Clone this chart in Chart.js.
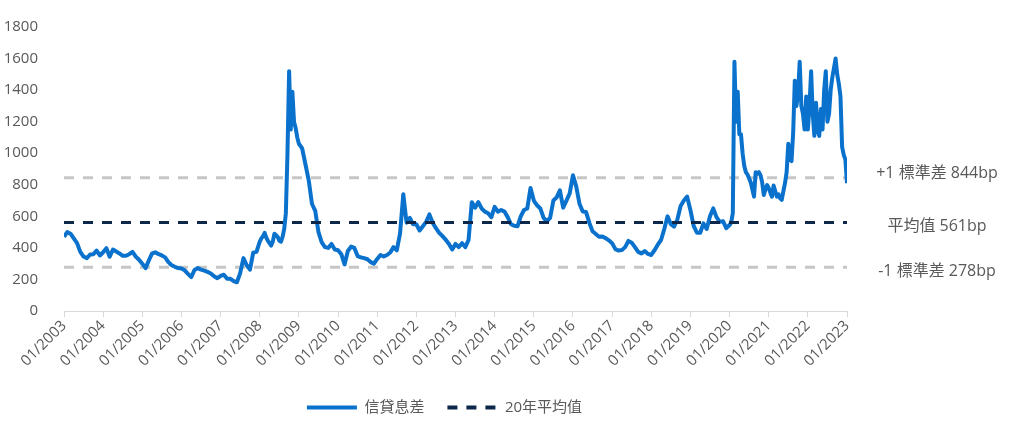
<!DOCTYPE html>
<html>
<head>
<meta charset="utf-8">
<script src="https://cdn.jsdelivr.net/npm/chart.js@4.4.1/dist/chart.umd.min.js"></script>
<style>
	body { margin: 0; background: #fff; }
	canvas { display: block; }
</style>
</head>
<body>
<canvas id="chart" width="1023" height="433"></canvas>
<script>
// spread readings, evenly spaced inside each year (12 = monthly, 24 = half-monthly)
const years = [2003, 2004, 2005, 2006, 2007, 2008, 2009, 2010, 2011, 2012,
	2013, 2014, 2015, 2016, 2017, 2018, 2019, 2020, 2021, 2022, 2023];

const spread2003 = [470, 500, 490, 460, 430, 375, 345, 335, 358, 360, 383, 352];
const spread2004 = [372, 398, 344, 390, 377, 365, 350, 350, 360, 375, 345, 325];
const spread2005 = [300, 272, 320, 365, 372, 360, 352, 340, 310, 290, 280, 272];
const spread2006 = [270, 258, 235, 215, 260, 272, 262, 256, 248, 238, 220, 208];
const spread2007 = [222, 230, 205, 204, 190, 182, 240, 335, 290, 262, 370, 375];
const spread2008 = [440, 460, 475, 495, 465, 445, 430, 415, 440, 490, 480, 470,
	445, 440, 470, 520, 620, 1000, 1520, 1150, 1390, 1200, 1160, 1100];
const spread2009 = [1060, 1030, 930, 830, 680, 635, 500, 435, 405, 400, 425, 390];
const spread2010 = [385, 360, 295, 380, 408, 400, 348, 340, 335, 328, 310, 300];
const spread2011 = [330, 355, 345, 355, 371, 405, 385, 490, 740, 560, 590, 550];
const spread2012 = [550, 510, 537, 565, 612, 560, 525, 495, 475, 452, 425, 390];
const spread2013 = [425, 405, 430, 405, 450, 690, 655, 690, 650, 630, 620, 595];
const spread2014 = [660, 630, 640, 630, 595, 550, 540, 537, 600, 640, 650, 780];
const spread2015 = [700, 670, 650, 590, 569, 590, 700, 720, 765, 655, 700, 745];
const spread2016 = [860, 790, 680, 630, 628, 560, 505, 488, 470, 472, 462, 448];
const spread2017 = [430, 392, 383, 386, 405, 444, 433, 405, 375, 365, 380, 362];
const spread2018 = [355, 385, 420, 450, 520, 600, 550, 535, 580, 665, 700, 725];
const spread2019 = [640, 540, 496, 496, 555, 520, 600, 650, 595, 565, 569, 525];
const spread2020 = [545, 560, 620, 1580, 1200, 1390, 1120, 1120, 1000, 920, 880, 865,
	840, 815, 770, 725, 880, 870, 880, 860, 815, 735, 770, 798];
const spread2021 = [780, 750, 725, 795, 760, 725, 740, 715, 705, 760, 810, 880,
	1060, 960, 950, 1130, 1460, 1300, 1380, 1580, 1300, 1250, 1150, 1360];
const spread2022 = [1150, 1300, 1520, 1250, 1110, 1320, 1150, 1110, 1280, 1150, 1400, 1520,
	1200, 1250, 1400, 1480, 1540, 1600, 1500, 1440, 1360, 1040, 990, 960];
const spread2023 = [810];

const spreadByYear = [spread2003, spread2004, spread2005, spread2006, spread2007,
	spread2008, spread2009, spread2010, spread2011, spread2012, spread2013,
	spread2014, spread2015, spread2016, spread2017, spread2018, spread2019,
	spread2020, spread2021, spread2022, spread2023];

const meanValue = 561;
const upperValue = 844;
const lowerValue = 278;

const seriesNames = ["信貸息差", "20年平均值"];
const bandLabels = ["+1 標準差 844bp", "平均值 561bp", "-1 標準差 278bp"];
const bandValues = [upperValue, meanValue, lowerValue];

const startYear = 2003;
const endYear = 2023;

const textColor = "#595959";
const fontFamily = "'Open Sans', 'Noto Sans CJK TC', sans-serif";
Chart.defaults.font.family = fontFamily;
Chart.defaults.font.size = 15;
Chart.defaults.color = textColor;

function buildSpread() {
	const points = [];
	spreadByYear.forEach((values, i) => {
		values.forEach((value, j) => {
			points.push({ x: years[i] + j / values.length, y: value });
		});
	});
	return points;
}

function flatLine(value) {
	return [{ x: startYear, y: value }, { x: endYear, y: value }];
}

const bandText = {
	id: "bandText",
	afterDraw(chart) {
		const ctx = chart.ctx;
		const yScale = chart.scales.y;
		const offsets = [-4, 4, 4];
		ctx.save();
		ctx.font = "16px " + fontFamily;
		ctx.fillStyle = textColor;
		ctx.textAlign = "center";
		ctx.textBaseline = "middle";
		bandLabels.forEach((label, i) => {
			ctx.fillText(label, 937, yScale.getPixelForValue(bandValues[i]) + offsets[i]);
		});
		ctx.restore();
	}
};

const config = {
	type: "line",
	data: {
		datasets: [
			{
				label: seriesNames[0],
				data: buildSpread(),
				borderColor: "#0a72cc",
				borderWidth: 4,
				borderJoinStyle: "round",
				pointRadius: 0,
				tension: 0,
				order: 2
			},
			{
				label: seriesNames[1],
				data: flatLine(meanValue),
				borderColor: "#0c2749",
				borderWidth: 3,
				borderDash: [10, 9],
				pointRadius: 0,
				order: 1
			},
			{
				label: "upper",
				data: flatLine(upperValue),
				borderColor: "#c6c6c6",
				borderWidth: 3,
				borderDash: [10, 9],
				pointRadius: 0,
				order: 3
			},
			{
				label: "lower",
				data: flatLine(lowerValue),
				borderColor: "#c6c6c6",
				borderWidth: 3,
				borderDash: [10, 9],
				pointRadius: 0,
				order: 3
			}
		]
	},
	options: {
		responsive: false,
		animation: false,
		layout: { padding: { top: 23, right: 134, bottom: 8, left: 0 } },
		scales: {
			x: {
				type: "linear",
				min: startYear,
				max: endYear,
				grid: { drawOnChartArea: false, color: "#d9d9d9", tickLength: 6 },
				border: { color: "#d9d9d9" },
				ticks: {
					stepSize: 1,
					autoSkip: false,
					minRotation: 45,
					maxRotation: 45,
					padding: 0,
					callback: (value) => "01/" + value
				},
				afterFit: (scale) => { scale.height = 66; }
			},
			y: {
				min: 0,
				max: 1800,
				grid: { display: false },
				border: { display: false },
				ticks: { stepSize: 200, padding: 18, callback: (value) => String(value) },
				afterFit: (scale) => { scale.width = 64; }
			},
			y2: {
				position: "right",
				grid: { display: false },
				border: { display: false },
				ticks: { display: false },
				afterFit: (scale) => { scale.width = 42; }
			}
		},
		plugins: {
			tooltip: { enabled: false },
			legend: {
				position: "bottom",
				labels: {
					usePointStyle: true,
					pointStyle: "line",
					pointStyleWidth: 50,
					boxWidth: 50,
					padding: 23,
					filter: (item) => item.datasetIndex < 2,
					sort: (a, b) => a.datasetIndex - b.datasetIndex,
					generateLabels: (chart) => {
						const items = Chart.defaults.plugins.legend.labels.generateLabels(chart);
						return items.map((item) => {
							const ds = chart.data.datasets[item.datasetIndex];
							item.lineDash = ds.borderDash || [];
							item.lineWidth = 4;
							item.strokeStyle = ds.borderColor;
							return item;
						});
					}
				}
			}
		}
	},
	plugins: [bandText]
};

new Chart(document.getElementById("chart"), config);
</script>
</body>
</html>
